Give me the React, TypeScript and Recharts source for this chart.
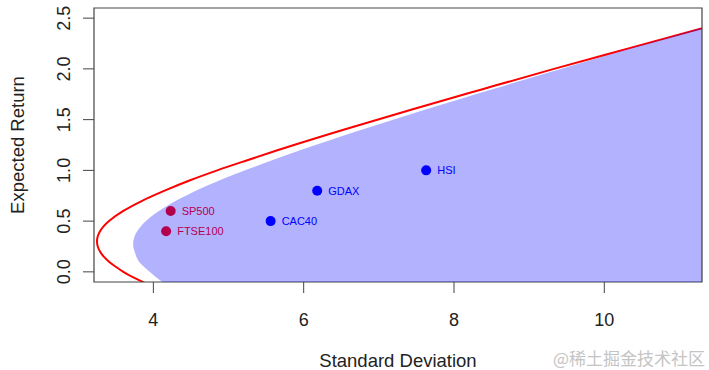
import React from 'react';
import { ComposedChart, Line, Area, Scatter, XAxis, YAxis, LabelList, ReferenceArea } from 'recharts';

// ---- data ----
const xTicks = [4, 6, 8, 10];
const yTicks = [0, 0.5, 1, 1.5, 2, 2.5];

// red efficient-frontier curve (expected return -> standard deviation)
const frontierMu = [-0.2, -0.1, -0.05, 0, 0.05, 0.1, 0.15, 0.2, 0.25, 0.3, 0.35, 0.4, 0.45, 0.5, 0.6, 0.7, 0.8, 0.9, 1.0, 1.1, 1.2, 1.4, 1.6, 1.8, 2.0, 2.2, 2.45];
const frontierSd = [4.15, 3.86, 3.72, 3.6, 3.5, 3.41, 3.34, 3.29, 3.26, 3.25, 3.26, 3.29, 3.34, 3.41, 3.6, 3.85, 4.15, 4.48, 4.85, 5.25, 5.66, 6.53, 7.44, 8.38, 9.33, 10.31, 11.54];

// blue feasible region boundary
const regionMu = [-0.4, -0.25, -0.1, 0.0, 0.1, 0.2, 0.27, 0.35, 0.45, 0.55, 0.65, 0.75, 0.85, 1.0, 1.2, 1.4, 1.6, 1.8, 2.0, 2.2, 2.4, 2.7];
const regionSd = [5.0, 4.54, 4.12, 3.95, 3.81, 3.75, 3.73, 3.75, 3.835, 3.98, 4.18, 4.43, 4.72, 5.22, 5.96, 6.77, 7.62, 8.51, 9.42, 10.34, 11.28, 12.71];
const regionRightSd = 14;

// assets
const redAssetNames = ['SP500', 'FTSE100'];
const redAssetSd = [4.23, 4.17];
const redAssetMu = [0.6, 0.4];
const blueAssetNames = ['CAC40', 'GDAX', 'HSI'];
const blueAssetSd = [5.56, 6.18, 7.63];
const blueAssetMu = [0.5, 0.8, 1.0];

const xDomain = [3.21, 11.3];
const yDomain = [-0.1, 2.6];

const frontierData = frontierMu.map((mu, i) => ({ mu, sd: frontierSd[i] }));
const regionData = regionMu.map((mu, i) => ({ mu, band: [regionSd[i], regionRightSd] }));
const redAssets = redAssetNames.map((name, i) => ({ name, sd: redAssetSd[i], mu: redAssetMu[i] }));
const blueAssets = blueAssetNames.map((name, i) => ({ name, sd: blueAssetSd[i], mu: blueAssetMu[i] }));

const FONT = '"Liberation Sans", Arial, Helvetica, sans-serif';
const TEXT = '#222';
const BOX = '#444';

const XTick = (props: any) => {
  const { x, y, payload } = props;
  return (
    <text x={x} y={y + 31} textAnchor="middle" fontSize={18} fill={TEXT} fontFamily={FONT}>
      {payload.value}
    </text>
  );
};

const YTick = (props: any) => {
  const { x, y, payload } = props;
  const bx = x - 11;
  return (
    <text x={bx} y={y} textAnchor="middle" fontSize={18} fill={TEXT} fontFamily={FONT} transform={`rotate(-90, ${bx}, ${y})`}>
      {Number(payload.value).toFixed(1)}
    </text>
  );
};

const Dot = (color: string) => (props: any) => <circle cx={props.cx} cy={props.cy} r={5} fill={color} />;

export default function App() {
  return (
    <div style={{ position: 'relative', width: 709, height: 370, background: '#fff' }}>
      <style>{'body{margin:0;background:#fff}'}</style>
      <ComposedChart
        width={709}
        height={370}
        layout="vertical"
        margin={{ top: 8, right: 7, bottom: 0, left: 0 }}
      >
        <XAxis
          type="number"
          dataKey="sd"
          domain={xDomain}
          ticks={xTicks}
          allowDataOverflow
          height={88}
          tickSize={11}
          tickLine={{ stroke: BOX }}
          axisLine={false}
          tick={<XTick />}
          label={{ value: 'Standard Deviation', position: 'insideBottom', offset: 3, fontSize: 18.5, fill: TEXT, fontFamily: FONT }}
        />
        <YAxis
          type="number"
          dataKey="mu"
          domain={yDomain}
          ticks={yTicks}
          reversed
          allowDataOverflow
          width={94}
          tickSize={11}
          tickLine={{ stroke: BOX }}
          axisLine={false}
          tick={<YTick />}
          label={{ value: 'Expected Return', angle: -90, position: 'insideLeft', offset: 17, fontSize: 18.5, fill: TEXT, fontFamily: FONT, style: { textAnchor: 'middle' } }}
        />
        <ReferenceArea
          x1={xDomain[0]}
          x2={xDomain[1]}
          y1={yDomain[0]}
          y2={yDomain[1]}
          fill="none"
          stroke={BOX}
          strokeWidth={1.2}
          zIndex={550}
        />

        <Line
          data={frontierData}
          dataKey="sd"
          type="monotone"
          stroke="#ff0000"
          strokeWidth={2}
          dot={false}
          activeDot={false}
          isAnimationActive={false}
          zIndex={400}
        />
        <Scatter data={redAssets} fill="#ff0000" shape={Dot('#ff0000')} isAnimationActive={false} zIndex={600}>
          <LabelList dataKey="name" position="right" offset={6.5} fill="#ff0000" fontSize={11} fontFamily={FONT} zIndex={650} />
        </Scatter>
        <Area
          data={regionData}
          dataKey="band"
          type="monotone"
          stroke="none"
          fill="#0000ff"
          fillOpacity={0.3}
          isAnimationActive={false}
          activeDot={false}
          zIndex={700}
        />
        <Scatter data={blueAssets} fill="#0000ff" shape={Dot('#0000ff')} isAnimationActive={false} zIndex={800}>
          <LabelList dataKey="name" position="right" offset={6.5} fill="#0000ff" fontSize={11} fontFamily={FONT} zIndex={850} />
        </Scatter>
      </ComposedChart>
      <div
        style={{
          position: 'absolute',
          right: 4,
          top: 348,
          fontSize: 17,
          color: '#c4c4c4',
          fontFamily: '"Noto Sans CJK SC", sans-serif',
          lineHeight: '20px',
        }}
      >
        @稀土掘金技术社区
      </div>
    </div>
  );
}
